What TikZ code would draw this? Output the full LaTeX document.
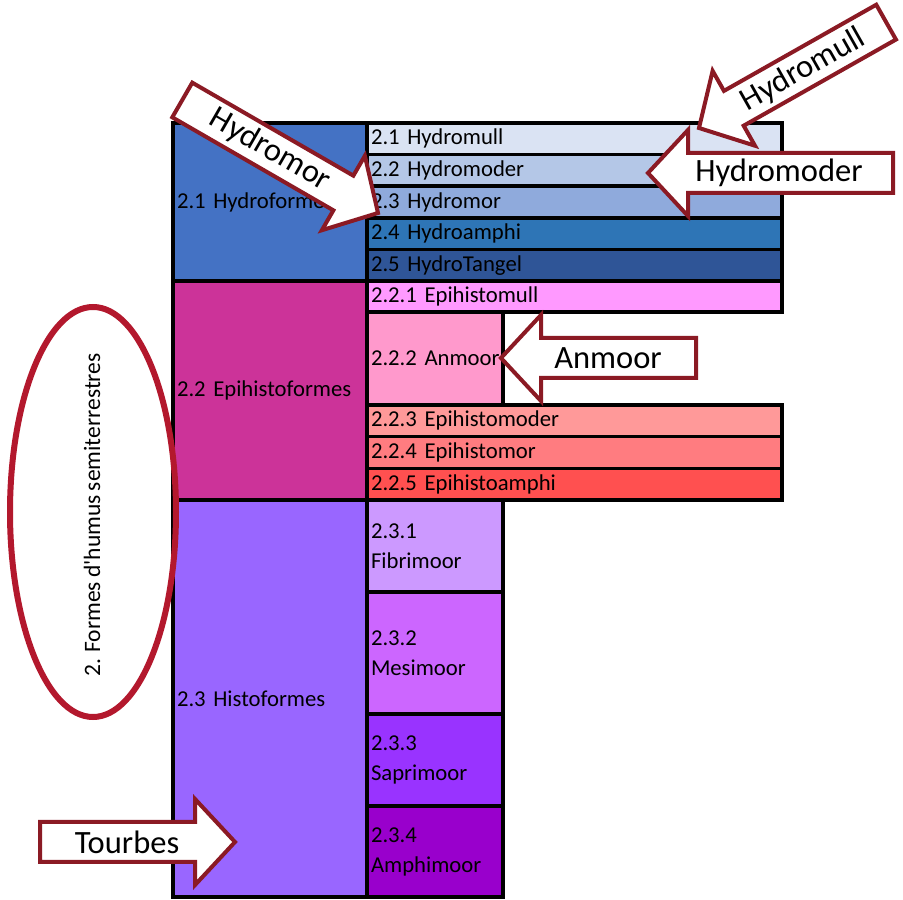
\documentclass[tikz,border=0pt]{standalone}
\usepackage{fontspec}
\setmainfont{Carlito}[WordSpace=0.8]
\usepackage{xcolor}
\usepackage{tikz}
\usetikzlibrary{positioning, calc}
\definecolor{BleuHydro}  {HTML}{4472C4}
\definecolor{BleuMull}   {HTML}{DAE3F3}
\definecolor{BleuModer}  {HTML}{B4C7E7}
\definecolor{BleuMor}    {HTML}{8FAADC}
\definecolor{BleuAmphi}  {HTML}{2E75B6}
\definecolor{BleuTangel} {HTML}{2F5597}
\definecolor{RoseEpi}    {HTML}{CC3399}
\definecolor{RoseMull}   {HTML}{FF99FF}
\definecolor{RoseAnmoor} {HTML}{FF99CC}
\definecolor{RoseModer}  {HTML}{FF9999}
\definecolor{RoseMor}    {HTML}{FF7C80}
\definecolor{RoseAmphi}  {HTML}{FF5050}
\definecolor{VioletHisto}{HTML}{9966FF}
\definecolor{VioletFibri}{HTML}{CC99FF}
\definecolor{VioletMesi} {HTML}{CC66FF}
\definecolor{VioletSapri}{HTML}{9933FF}
\definecolor{VioletAmphi}{HTML}{9900CC}
\definecolor{RougeFleche}{HTML}{8B1A24}
\definecolor{RougeOvale} {HTML}{B3182D}

% fleche bloc : pointe, angle vers la queue, longueur
\newcommand{\flechebloc}[3]{%
  \begin{scope}[shift={(#1)}, rotate=#2]
    \draw[fleche] (0,0) -- (40,43) -- (40,20) -- (#3,20) -- (#3,-20)
      -- (40,-20) -- (40,-43) -- cycle;
  \end{scope}}

\begin{document}
\begin{tikzpicture}[x=1pt, y=1pt,
    case/.style={draw=black, line width=3.5pt, outer sep=0pt, inner xsep=4pt,
      inner ysep=0pt, anchor=north west, align=left,
      font=\fontsize{22.7}{30}\selectfont},
    large/.style={case, text width=407pt, minimum height=31.6pt},
    etroite/.style={case, text width=128pt},
    groupe/.style={case, text width=186pt},
    fleche/.style={draw=RougeFleche, fill=white, line width=4pt, line join=miter},
    etiquette/.style={font=\fontsize{32.5}{36}\selectfont, inner sep=0pt},
    ovale/.style={draw=RougeOvale, line width=6pt}]
  \useasboundingbox (0,0) rectangle (903,900);

  % colonne de gauche
  \node[groupe, fill=BleuHydro,   minimum height=158pt] (hydro) at (173,777) {2.1 Hydroformes};
  \node[groupe, fill=RoseEpi,     minimum height=219pt] (epi)   at (hydro.south west) {2.2 Epihistoformes};
  \node[groupe, fill=VioletHisto, minimum height=397pt] (histo) at (epi.south west) {2.3 Histoformes};

  % hydroformes
  \foreach \i/\coul/\lbl in {1/BleuMull/2.1 Hydromull, 2/BleuModer/2.2 Hydromoder,
      3/BleuMor/2.3 Hydromor, 4/BleuAmphi/2.4 Hydroamphi, 5/BleuTangel/2.5 HydroTangel}{
    \node[large, fill=\coul] (hydro\i) at ({367},{777-(\i-1)*31.6}) {\lbl};
  }

  % epihistoformes
  \node[large, fill=RoseMull, minimum height=31pt] (epi1) at (367,619) {2.2.1 Epihistomull};
  \node[etroite, fill=RoseAnmoor, minimum height=93pt] (epi2) at (epi1.south west) {\mbox{2.2.2 Anmoor}};
  \foreach \i/\coul/\lbl in {3/RoseModer/2.2.3 Epihistomoder, 4/RoseMor/2.2.4 Epihistomor,
      5/RoseAmphi/2.2.5 Epihistoamphi}{
    \node[large, fill=\coul] (epi\i) at ({367},{495-(\i-3)*31.67}) {\lbl};
  }

  % histoformes
  \node[etroite, fill=VioletFibri, minimum height=92pt]  (histo1) at (367,400) {2.3.1\\Fibrimoor};
  \node[etroite, fill=VioletMesi,  minimum height=122pt] (histo2) at (histo1.south west) {2.3.2\\Mesimoor};
  \node[etroite, fill=VioletSapri, minimum height=92pt]  (histo3) at (histo2.south west) {2.3.3\\Saprimoor};
  \node[etroite, fill=VioletAmphi, minimum height=91pt]  (histo4) at (histo3.south west) {2.3.4\\Amphimoor};

  % fleches
  \flechebloc{235,58}{180}{195}
  \node[etiquette] (tourbes) at (127,58) {Tourbes};
  \flechebloc{501,542}{0}{195}
  \node[etiquette] (anmoor) at (608,542) {Anmoor};
  \flechebloc{648,727}{0}{245}
  \node[etiquette] (hydromoder) at (779,727) {Hydromoder};
  \flechebloc{699,772}{29.5}{215}
  \node[etiquette, rotate=29.5] (hydromull) at (803,830) {Hydromull};
  \flechebloc{378,687}{150}{226}
  \node[etiquette, rotate=-30] (hydromor) at (270,750) {Hydromor};

  % ovale
  \draw[ovale] (93,388) ellipse [x radius=83, y radius=205];
  \node[rotate=90, font=\fontsize{23.5}{28}\selectfont, inner sep=0pt] (titre) at (92,385)
    {2. Formes d\textquotesingle humus semiterrestres};
\end{tikzpicture}
\end{document}
